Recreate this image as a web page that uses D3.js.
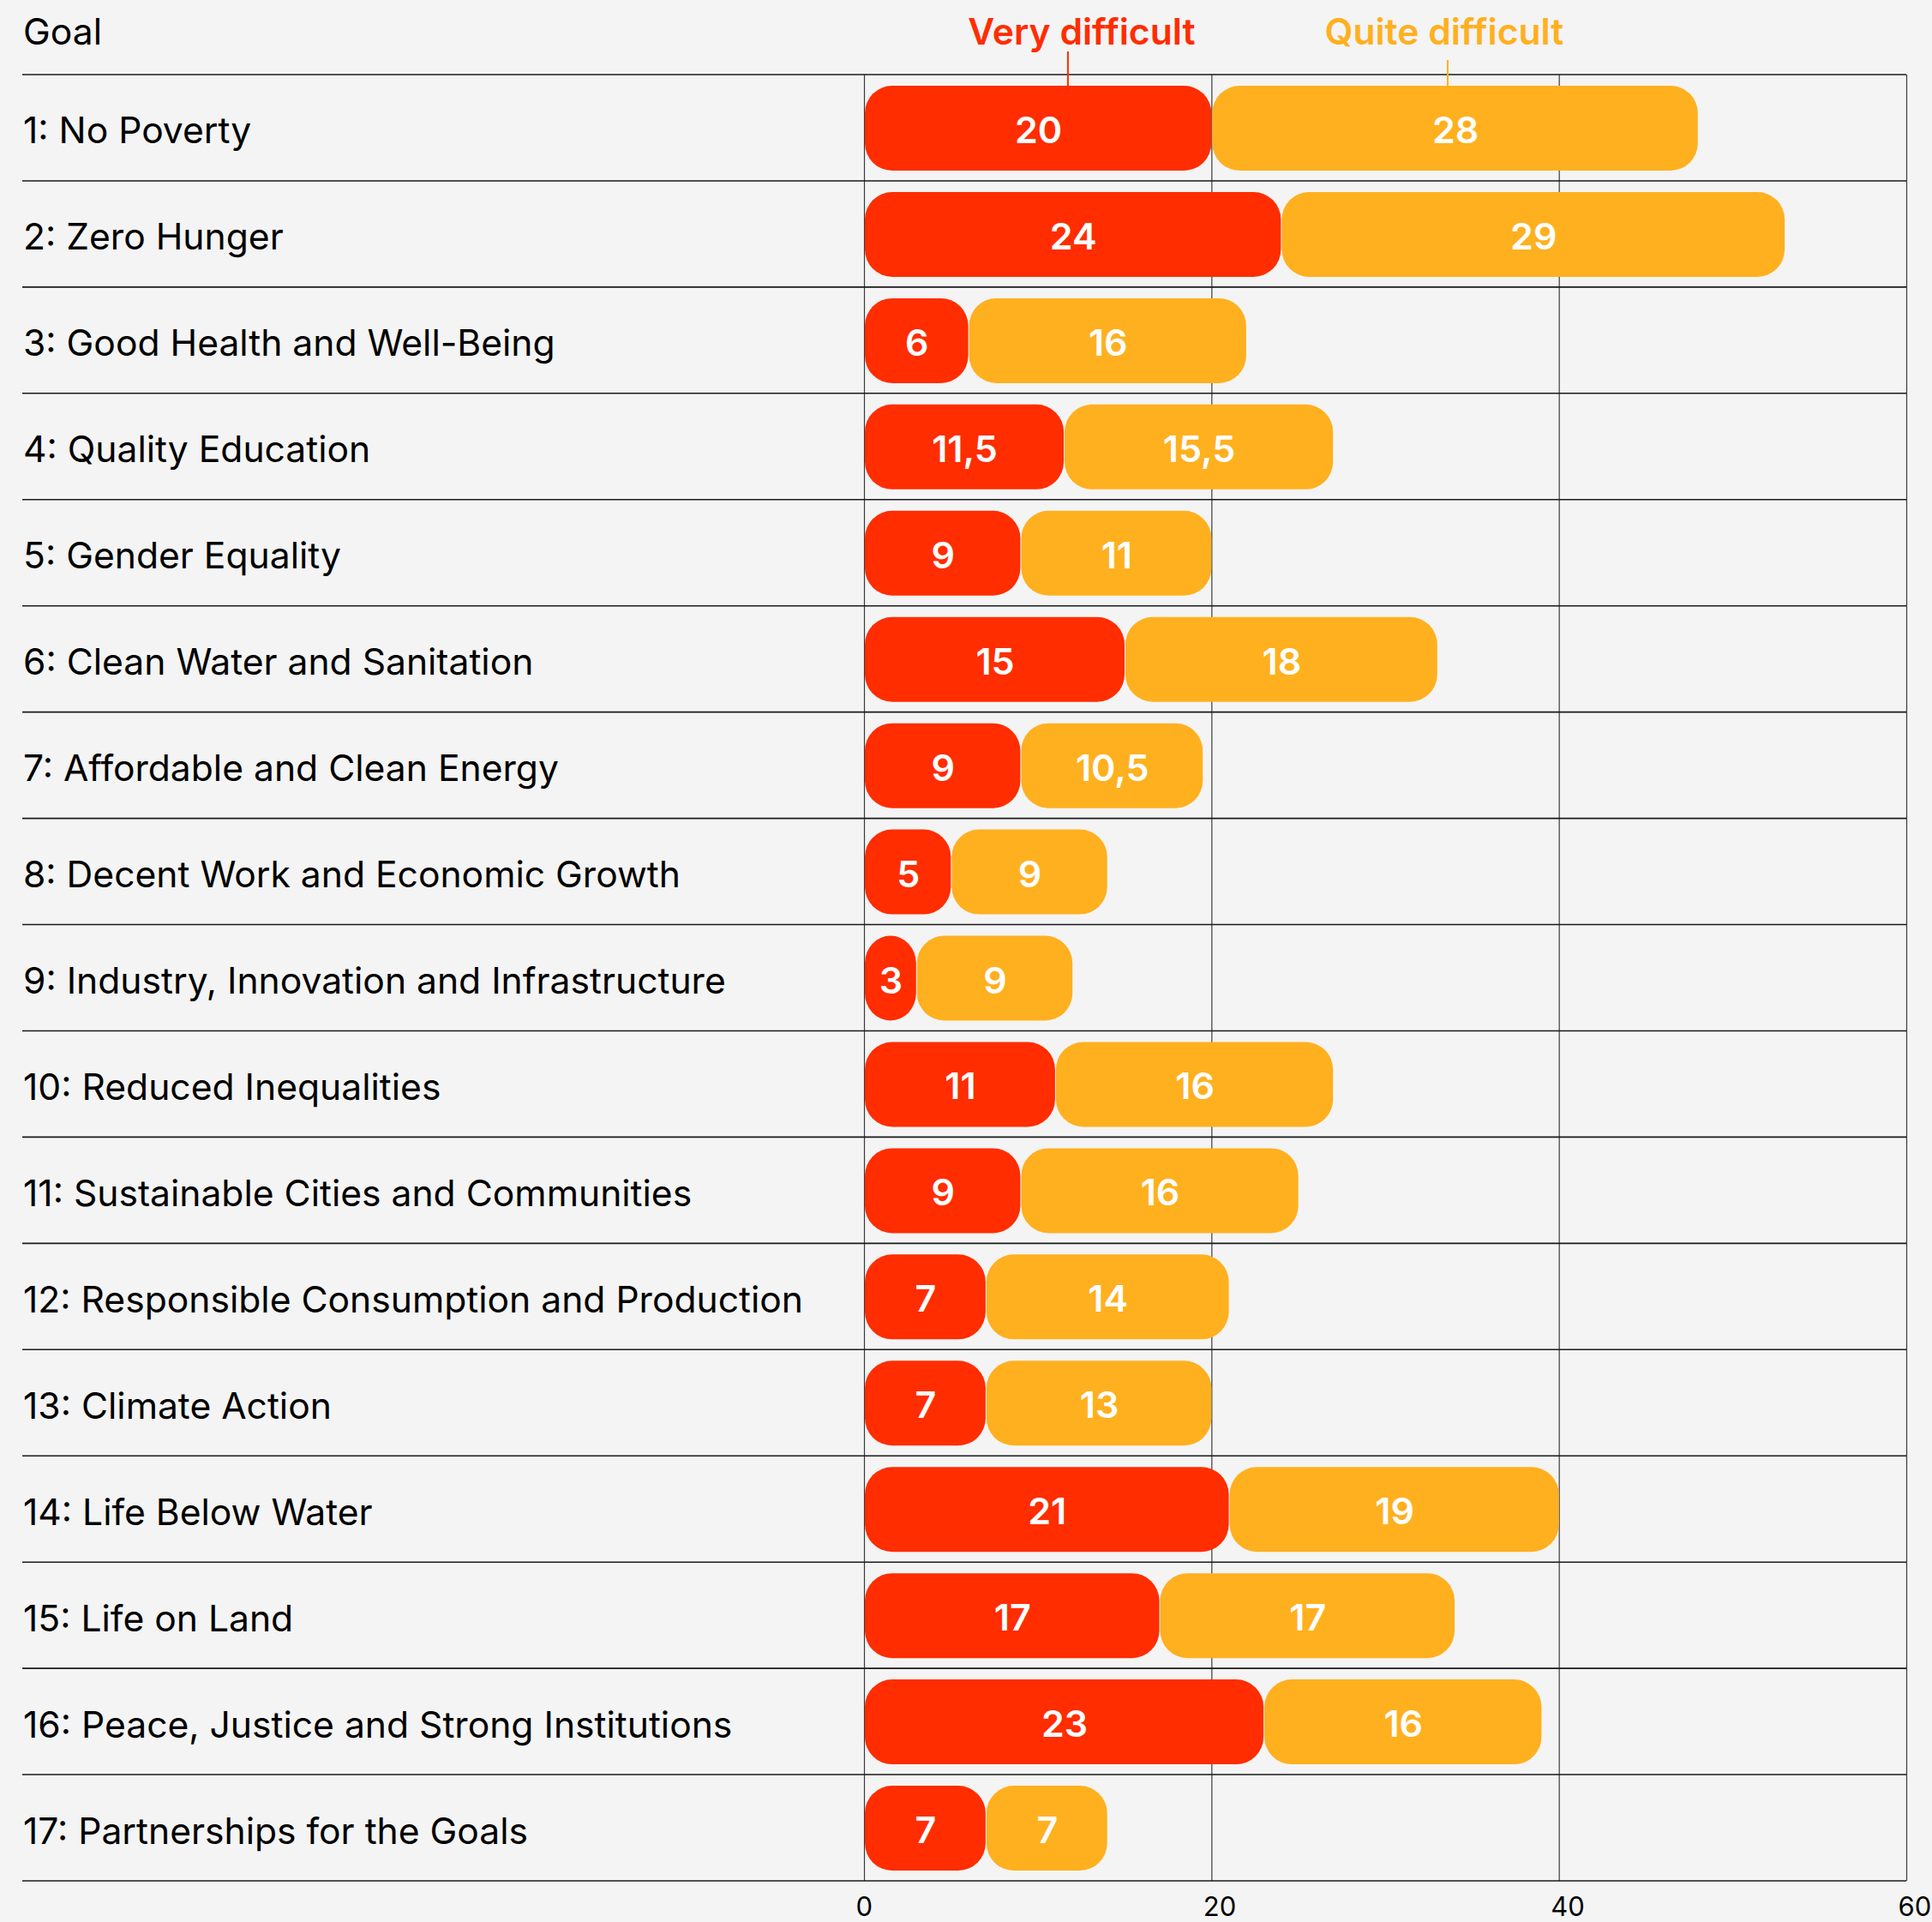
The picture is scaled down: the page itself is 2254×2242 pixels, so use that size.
<!DOCTYPE html>
<html><head><meta charset="utf-8">
<script src="https://cdn.jsdelivr.net/npm/d3@7"></script>
<style>html,body{margin:0;padding:0;background:#f4f4f4;overflow:hidden}</style>
</head><body>
<svg id="chart" width="2254" height="2242"></svg>
<script>
const goals = [
  "1: No Poverty",
  "2: Zero Hunger",
  "3: Good Health and Well-Being",
  "4: Quality Education",
  "5: Gender Equality",
  "6: Clean Water and Sanitation",
  "7: Affordable and Clean Energy",
  "8: Decent Work and Economic Growth",
  "9: Industry, Innovation and Infrastructure",
  "10: Reduced Inequalities",
  "11: Sustainable Cities and Communities",
  "12: Responsible Consumption and Production",
  "13: Climate Action",
  "14: Life Below Water",
  "15: Life on Land",
  "16: Peace, Justice and Strong Institutions",
  "17: Partnerships for the Goals"
];
const veryDifficult = [20, 24, 6, 11.5, 9, 15, 9, 5, 3, 11, 9, 7, 7, 21, 17, 23, 7];
const quiteDifficult = [28, 29, 16, 15.5, 11, 18, 10.5, 9, 9, 16, 16, 14, 13, 19, 17, 16, 7];
const seriesNames = ["Very difficult", "Quite difficult"];
const seriesColors = ["#ff2d00", "#ffb01f"];
const xTicks = [0, 20, 40, 60];
const headerLabel = "Goal";

(function () {
const W = 2254, H = 2242;
const mLeft = 26, plotLeft = 1008, plotRight = 2224, mTop = 87, mBottom = 2194;
const svg = d3.select("#chart");
svg.append("rect").attr("width", W).attr("height", H).attr("fill", "#f4f4f4");

const x = d3.scaleLinear().domain([0, 60]).range([plotLeft, plotRight]);
const y = d3.scaleBand().domain(goals).range([mTop, mBottom]).padding(0);
const step = y.step();
const barInset = 13, barH = 99;

const fmt = v => String(v).replace(".", ",");
const font = "Inter, 'Noto Sans', sans-serif";

// vertical grid via axis
const axis = d3.axisBottom(x).tickValues(xTicks).tickSize(-(mBottom - mTop)).tickFormat(d => d);
const gAxis = svg.append("g").attr("transform", `translate(0,${mBottom})`).call(axis);
gAxis.select(".domain").remove();
gAxis.selectAll(".tick line").attr("stroke", "#3a3a3a").attr("stroke-width", 1.2);
gAxis.selectAll(".tick text")
  .attr("y", 41).attr("dy", 0).attr("x", -10)
  .attr("text-anchor", "start")
  .attr("fill", "#000")
  .style("font-family", font).style("font-size", "31px");

// horizontal row lines
const lineYs = goals.map(g => y(g)).concat([mBottom]);
svg.append("g").selectAll("line").data(lineYs).join("line")
  .attr("x1", mLeft).attr("x2", plotRight)
  .attr("y1", d => d).attr("y2", d => d)
  .attr("stroke", "#1a1a1a").attr("stroke-width", 1.6);

// header
svg.append("text").attr("x", 27).attr("y", 51.5).text(headerLabel)
  .attr("fill", "#000").style("font-family", font).style("font-size", "42.6px");

// row labels
svg.append("g").selectAll("text").data(goals).join("text")
  .attr("x", 27).attr("y", d => y(d) + step / 2 + 18.5)
  .text(d => d).attr("fill", "#000")
  .style("font-family", font).style("font-size", "42.6px");

// stacked data
const rows = goals.map((g, i) => ({ goal: g, v: [veryDifficult[i], quiteDifficult[i]] }));
const segs = [];
rows.forEach(r => {
  let acc = 0;
  r.v.forEach((v, k) => { segs.push({ goal: r.goal, k, x0: acc, x1: acc + v, v }); acc += v; });
});

const gBars = svg.append("g");
gBars.selectAll("rect").data(segs).join("rect")
  .attr("x", d => x(d.x0) + 1)
  .attr("width", d => x(d.x1) - x(d.x0) - 1)
  .attr("y", d => y(d.goal) + barInset)
  .attr("height", barH)
  .attr("rx", 32).attr("ry", 32)
  .attr("fill", d => seriesColors[d.k]);

gBars.selectAll("text").data(segs).join("text")
  .attr("x", d => (x(d.x0) + x(d.x1)) / 2 + 1)
  .attr("y", d => y(d.goal) + step / 2 + 18)
  .attr("text-anchor", "middle")
  .text(d => fmt(d.v))
  .attr("fill", "#fff")
  .style("font-family", font).style("font-size", "43px").style("font-weight", 600);

// legend annotations
const legendPos = [{ tx: 12.53, lx: 11.74, ly: 60 }, { tx: 33.4, lx: 33.6, ly: 70 }];
seriesNames.forEach((name, k) => {
  svg.append("text").attr("x", x(legendPos[k].tx)).attr("y", 51.5)
    .attr("text-anchor", "middle").text(name)
    .attr("fill", seriesColors[k])
    .style("font-family", font).style("font-size", "42.6px").style("font-weight", 600);
  svg.append("line")
    .attr("x1", x(legendPos[k].lx)).attr("x2", x(legendPos[k].lx))
    .attr("y1", legendPos[k].ly).attr("y2", y(goals[0]) + barInset)
    .attr("stroke", seriesColors[k]).attr("stroke-width", 2);
});
})();
</script>
</body></html>
